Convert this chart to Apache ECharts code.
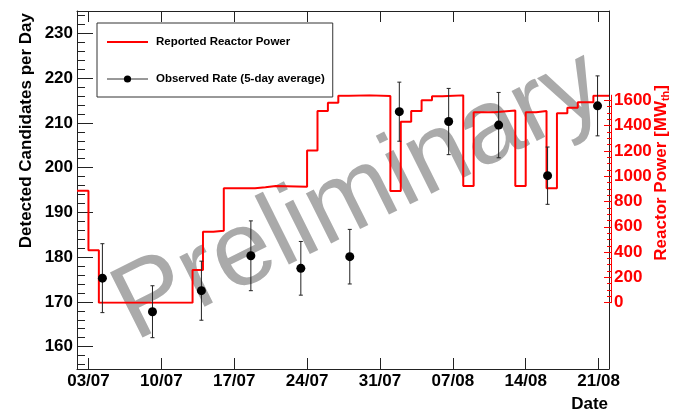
<!DOCTYPE html>
<html>
<head>
<meta charset="utf-8">
<script src="https://cdn.jsdelivr.net/npm/echarts@6/dist/echarts.min.js"></script>
<style>
  html, body { margin: 0; padding: 0; background: #fff; }
  #chart { width: 680px; height: 414px; }
</style>
</head>
<body>
<div id="chart"></div>
<script>
const FONT = "'Liberation Sans', Arial, Helvetica, sans-serif";

// x axis: days counted from 03/07
const dateTicks = [0, 7, 14, 21, 28, 35, 42, 49];
const dateLabels = ["03/07", "10/07", "17/07", "24/07", "31/07", "07/08", "14/08", "21/08"];

const rateTicks = [160, 170, 180, 190, 200, 210, 220, 230];
const powerTicks = [0, 200, 400, 600, 800, 1000, 1200, 1400, 1600];

// reported reactor power, MW_th (level starts on that day)
const powerDays = [-1.1, 0, 1, 10, 11, 12, 13, 16, 17, 18, 21, 22, 23, 24, 25, 27,
  29, 30, 31, 32, 33, 34, 36, 37, 39, 41, 42, 43, 44, 45, 46, 47, 48.5, 50];
const powerValues = [885, 414, 0, 258, 561, 569, 904, 912, 922, 917, 1202, 1515, 1581, 1636, 1640, 1634,
  883, 1431, 1515, 1600, 1632, 1640, 922, 1505, 1520, 922, 1505, 1515, 904, 1497, 1540, 1585, 1636, 1636];

// observed rate (5-day average) with errors
const rateDays = [1.34, 6.15, 10.85, 15.6, 20.4, 25.1, 29.86, 34.6, 39.4, 44.1, 48.9];
const rateValues = [175.3, 167.8, 172.5, 180.3, 177.5, 180.1, 212.5, 210.3, 209.5, 198.2, 213.8];
const rateErrors = [7.7, 5.8, 6.6, 7.8, 6.0, 6.1, 6.6, 7.4, 7.3, 6.4, 6.7];

const rateMinorTicks = [];
for (let v = 156; v <= 234; v += 2) {
  if (v % 10 !== 0) rateMinorTicks.push(v);
}
const powerMinorTicks = [];
for (let v = 50; v <= 1600; v += 50) {
  if (v % 200 !== 0) powerMinorTicks.push(v);
}

const chart = echarts.init(document.getElementById("chart"));

function renderErrorBar(params, api) {
  const x = api.value(0);
  const v = api.value(1);
  const e = api.value(2);
  const top = api.coord([x, v + e]);
  const bot = api.coord([x, v - e]);
  const cap = 2;
  const style = { stroke: "#222", lineWidth: 1 };
  return {
    type: "group",
    children: [
      { type: "line", shape: { x1: top[0], y1: top[1], x2: bot[0], y2: bot[1] }, style: style },
      { type: "line", shape: { x1: top[0] - cap, y1: top[1], x2: top[0] + cap, y2: top[1] }, style: style },
      { type: "line", shape: { x1: bot[0] - cap, y1: bot[1], x2: bot[0] + cap, y2: bot[1] }, style: style },
    ],
  };
}

const xBase = { type: "value", min: -1.1, max: 50, splitLine: { show: false } };
const frameLine = { onZero: false, lineStyle: { color: "#222", width: 1 } };
const rateBox = { left: 77, right: 71, top: 11, bottom: 45 };
const powerBox = { left: 77, right: 71, top: 95.2, bottom: 111.3 };

chart.setOption({
  animation: false,
  textStyle: { fontFamily: FONT },
  // 0: frame + rate, 1: power, 2: rate minor ticks, 3: power minor ticks
  grid: [rateBox, powerBox, rateBox, powerBox],
  xAxis: [
    {
      ...xBase,
      gridIndex: 0,
      position: "bottom",
      axisLine: frameLine,
      axisTick: { inside: true, length: 11, customValues: dateTicks, lineStyle: { color: "#222" } },
      axisLabel: {
        customValues: dateTicks,
        formatter: (v) => dateLabels[dateTicks.indexOf(v)],
        fontSize: 17, fontWeight: "bold", color: "#000", margin: 4,
      },
    },
    {
      ...xBase,
      gridIndex: 0,
      position: "top",
      axisLine: frameLine,
      axisTick: { inside: true, length: 11, customValues: dateTicks, lineStyle: { color: "#222" } },
      axisLabel: { show: false },
    },
    { ...xBase, gridIndex: 1, show: false, axisLine: { onZero: false } },
    { ...xBase, gridIndex: 2, show: false, axisLine: { onZero: false } },
    { ...xBase, gridIndex: 3, show: false, axisLine: { onZero: false } },
  ],
  yAxis: [
    {
      gridIndex: 0, type: "value", min: 155, max: 235, position: "left",
      axisLine: { show: true, ...frameLine },
      axisTick: { inside: true, length: 16, customValues: rateTicks, lineStyle: { color: "#222" } },
      axisLabel: { customValues: rateTicks, fontSize: 17, fontWeight: "bold", color: "#000", margin: 4 },
      splitLine: { show: false },
    },
    {
      gridIndex: 0, type: "value", min: 155, max: 235, position: "right",
      axisLine: { show: true, ...frameLine },
      axisTick: { show: false },
      axisLabel: { show: false },
      splitLine: { show: false },
    },
    {
      gridIndex: 1, type: "value", min: 0, max: 1640, position: "right", offset: 2,
      axisLine: { show: true, onZero: false, lineStyle: { color: "#ff0000", width: 1 } },
      axisTick: { inside: true, length: 7, customValues: powerTicks, lineStyle: { color: "#ff0000" } },
      axisLabel: {
        customValues: powerTicks, formatter: (v) => String(v),
        fontSize: 17, fontWeight: "bold", color: "#ff0000", margin: 3,
      },
      splitLine: { show: false },
    },
    {
      gridIndex: 2, type: "value", min: 155, max: 235, position: "left",
      axisLine: { show: false, onZero: false },
      axisTick: { inside: true, length: 8, customValues: rateMinorTicks, lineStyle: { color: "#222" } },
      axisLabel: { show: false },
      splitLine: { show: false },
    },
    {
      gridIndex: 3, type: "value", min: 0, max: 1640, position: "right", offset: 2,
      axisLine: { show: false, onZero: false },
      axisTick: { inside: true, length: 4, customValues: powerMinorTicks, lineStyle: { color: "#ff0000" } },
      axisLabel: { show: false },
      splitLine: { show: false },
    },
  ],
  legend: {
    orient: "vertical",
    left: 97,
    top: 23,
    padding: [13, 8, 12, 9],
    itemGap: 25,
    itemWidth: 41,
    itemHeight: 9,
    backgroundColor: "#fff",
    borderColor: "#333",
    borderWidth: 1,
    selectedMode: false,
    textStyle: { fontSize: 11.5, fontWeight: "bold", color: "#000", fontFamily: FONT, padding: [0, 0, 0, 3] },
    data: [
      { name: "Reported Reactor Power", itemStyle: { opacity: 0 } },
      { name: "Observed Rate (5-day average)", lineStyle: { opacity: 1, width: 1, color: "#333" } },
    ],
  },
  graphic: [
    {
      type: "text", x: 359, y: 197, rotation: (26.5 * Math.PI) / 180, z: -1,
      style: {
        text: "Preliminary", fontSize: 106, fontFamily: FONT, fill: "#aaaaaa",
        textAlign: "center", textVerticalAlign: "middle", align: "center", verticalAlign: "middle",
      },
    },
    {
      type: "text", x: 26, y: 13, rotation: Math.PI / 2,
      style: {
        text: "Detected Candidates per Day", fontSize: 17, fontWeight: "bold", fontFamily: FONT, fill: "#000",
        textAlign: "right", textVerticalAlign: "middle", align: "right", verticalAlign: "middle",
      },
    },
    {
      type: "text", x: 661, y: 85, rotation: Math.PI / 2,
      style: {
        text: "Reactor Power [MW{sub|th}]", fontSize: 17, fontWeight: "bold", fontFamily: FONT, fill: "#ff0000",
        lineHeight: 20,
        rich: {
          sub: { fontSize: 11, fontWeight: "bold", fontFamily: FONT, fill: "#ff0000", lineHeight: 11, verticalAlign: "bottom" },
        },
        textAlign: "right", textVerticalAlign: "middle", align: "right", verticalAlign: "middle",
      },
    },
    {
      type: "text", x: 608, y: 404,
      style: {
        text: "Date", fontSize: 17, fontWeight: "bold", fontFamily: FONT, fill: "#000",
        textAlign: "right", textVerticalAlign: "middle", align: "right", verticalAlign: "middle",
      },
    },
  ],
  series: [
    {
      name: "Reported Reactor Power",
      type: "line",
      xAxisIndex: 2,
      yAxisIndex: 2,
      step: "end",
      symbol: "none",
      z: 3,
      lineStyle: { color: "#ff0000", width: 2 },
      itemStyle: { color: "#ff0000" },
      data: powerDays.map((d, i) => [d, powerValues[i]]),
    },
    {
      name: "errors",
      type: "custom",
      xAxisIndex: 0,
      yAxisIndex: 0,
      z: 4,
      renderItem: renderErrorBar,
      data: rateDays.map((d, i) => [d, rateValues[i], rateErrors[i]]),
    },
    {
      name: "Observed Rate (5-day average)",
      type: "line",
      xAxisIndex: 0,
      yAxisIndex: 0,
      z: 5,
      symbol: "circle",
      symbolSize: 9,
      lineStyle: { opacity: 0 },
      itemStyle: { color: "#000" },
      data: rateDays.map((d, i) => [d, rateValues[i]]),
    },
  ],
});
</script>
</body>
</html>
